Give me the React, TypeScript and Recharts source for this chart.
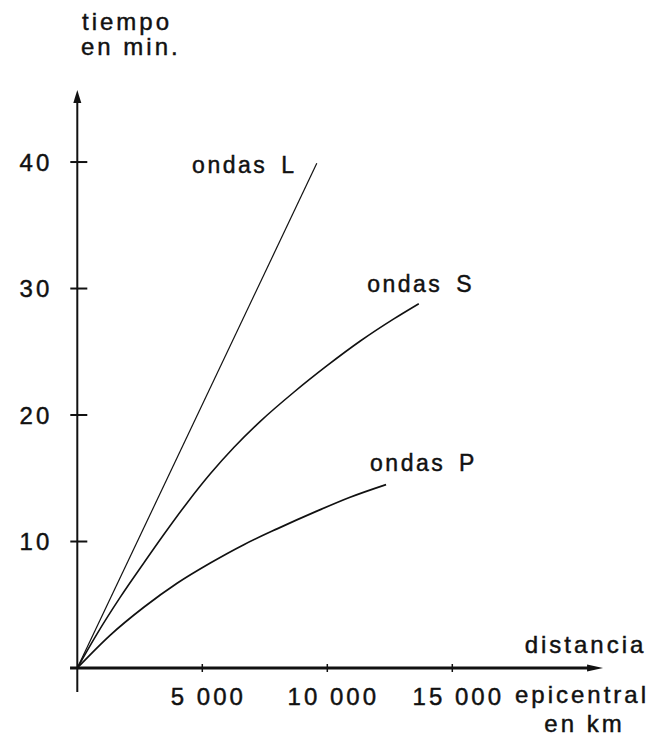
import React from 'react';
import { LineChart, Line, XAxis, YAxis, ReferenceLine } from 'recharts';

// ---- data ----
const distL = [0, 9580];
const timeL = [0, 39.9];

const distS = [0, 790, 1720, 2660, 3460, 4390, 5320, 6270, 7320, 8660, 9990, 11320, 12660, 13660];
const timeS = [0, 2.7, 5.6, 8.3, 10.55, 13.05, 15.35, 17.45, 19.5, 21.8, 23.9, 25.85, 27.6, 28.8];

const distP = [0, 1320, 2660, 3990, 5320, 6660, 7990, 9580, 10910, 12350];
const timeP = [0, 2.6, 4.8, 6.7, 8.3, 9.75, 11.0, 12.4, 13.5, 14.5];

const xTicks = [5000, 10000, 15000];
const xTickLabels = ['5 000', '10 000', '15 000'];
const yTicks = [10, 20, 30, 40];

const seriesWord = 'ondas';
const seriesLetters = ['L', 'S', 'P'];
const yTitle = ['tiempo', 'en min.'];
const xTitle = ['distancia', 'epicentral', 'en km'];

const xDomain: [number, number] = [0, 21000];
const yDomain: [number, number] = [0, 45.6];

const toRows = (xs: number[], ys: number[]) => xs.map((x, i) => ({ x, y: ys[i] }));
const dataL = toRows(distL, timeL);
const dataS = toRows(distS, timeS);
const dataP = toRows(distP, timeP);

const FONT = '"Liberation Sans", Arial, Helvetica, sans-serif';
const INK = '#111';
const TXT_STROKE = 0.45;

const XTick = (props: any) => {
  const { x, y, payload, index } = props;
  return (
    <g>
      <line x1={x} x2={x} y1={y - 4} y2={y + 4} stroke={INK} strokeWidth={1.5} />
      <text
        x={x + 6}
        y={y + 37}
        textAnchor="middle"
        fontFamily={FONT}
        fontSize={24}
        letterSpacing={3}
        fill={INK}
        stroke={INK}
        strokeWidth={TXT_STROKE}
      >
        {xTickLabels[xTicks.indexOf(payload.value)] ?? String(index)}
      </text>
    </g>
  );
};

const YTick = (props: any) => {
  const { x, y, payload } = props;
  return (
    <g>
      <line x1={x - 7} x2={x + 10} y1={y} y2={y} stroke={INK} strokeWidth={2} />
      <text
        x={x - 25}
        y={y + 8.5}
        textAnchor="end"
        fontFamily={FONT}
        fontSize={24}
        letterSpacing={3}
        fill={INK}
        stroke={INK}
        strokeWidth={TXT_STROKE}
      >
        {payload.value}
      </text>
    </g>
  );
};

const XAxisArrow = (props: any) => {
  const { x1, y1, x2 } = props;
  const len = 16;
  const hw = 3.5;
  return (
    <g>
      <line x1={x1} y1={y1} x2={x2 - len + 2} y2={y1} stroke={INK} strokeWidth={2.8} />
      <polygon points={`${x2},${y1} ${x2 - len},${y1 - hw} ${x2 - len},${y1 + hw}`} fill={INK} />
    </g>
  );
};

const YAxisArrow = (props: any) => {
  const { x1, y1, y2 } = props;
  const len = 13;
  const hw = 4;
  return (
    <g>
      <line x1={x1} y1={y1} x2={x1} y2={y2 + len - 2} stroke={INK} strokeWidth={2} />
      <polygon points={`${x1},${y2} ${x1 - hw},${y2 + len} ${x1 + hw},${y2 + len}`} fill={INK} />
    </g>
  );
};

const endLabel = (letter: string, lastIndex: number, dx: number, dy: number) => (props: any) => {
  const { x, y, index } = props;
  if (index !== lastIndex) return null;
  return (
    <text
      x={x + dx}
      y={y + dy}
      fontFamily={FONT}
      fontSize={23}
      letterSpacing={2.5}
      fill={INK}
      stroke={INK}
      strokeWidth={TXT_STROKE}
    >
      {seriesWord + ' '}
      <tspan dx={5}>{letter}</tspan>
    </text>
  );
};

export default function App() {
  return (
    <LineChart
      width={643}
      height={730}
      margin={{ top: 83.2, right: 48.7, bottom: 30, left: 9.3 }}
      style={{ background: '#fff' }}
    >
      <XAxis
        type="number"
        dataKey="x"
        domain={xDomain}
        ticks={xTicks}
        axisLine={false}
        tickLine={false}
        tickSize={0}
        tickMargin={0}
        height={40}
        tick={<XTick />}
        interval={0}
      />
      <YAxis
        type="number"
        dataKey="y"
        domain={yDomain}
        ticks={yTicks}
        axisLine={false}
        tickLine={false}
        tickSize={0}
        tickMargin={0}
        width={60}
        tick={<YTick />}
        interval={0}
      />
      <ReferenceLine
        segment={[{ x: -290, y: 0 }, { x: 21030, y: 0 }]}
        ifOverflow="visible"
        shape={XAxisArrow}
      />
      <ReferenceLine
        segment={[{ x: 0, y: -1.9 }, { x: 0, y: 45.7 }]}
        ifOverflow="visible"
        shape={YAxisArrow}
      />
      <Line
        data={dataL}
        dataKey="y"
        type="linear"
        stroke={INK}
        strokeWidth={1.2}
        dot={false}
        activeDot={false}
        isAnimationActive={false}
        label={endLabel(seriesLetters[0], dataL.length - 1, -124.7, 9.7)}
      />
      <Line
        data={dataS}
        dataKey="y"
        type="monotone"
        stroke={INK}
        strokeWidth={1.6}
        dot={false}
        activeDot={false}
        isAnimationActive={false}
        label={endLabel(seriesLetters[1], dataS.length - 1, -51.6, -11.7)}
      />
      <Line
        data={dataP}
        dataKey="y"
        type="monotone"
        stroke={INK}
        strokeWidth={1.7}
        dot={false}
        activeDot={false}
        isAnimationActive={false}
        label={endLabel(seriesLetters[2], dataP.length - 1, -16, -13.3)}
      />
      <text fontFamily={FONT} fontSize={24} letterSpacing={3} fill={INK} stroke={INK} strokeWidth={TXT_STROKE}>
        <tspan x={74} y={22}>{yTitle[0]}</tspan>
        <tspan x={73} y={47}>{yTitle[1]}</tspan>
      </text>
      <text
        fontFamily={FONT}
        fontSize={24}
        letterSpacing={3}
        fill={INK}
        stroke={INK}
        strokeWidth={TXT_STROKE}
        textAnchor="middle"
      >
        <tspan x={577.5} y={645}>{xTitle[0]}</tspan>
        <tspan x={574} y={695}>{xTitle[1]}</tspan>
        <tspan x={576.5} y={724}>{xTitle[2]}</tspan>
      </text>
    </LineChart>
  );
}
